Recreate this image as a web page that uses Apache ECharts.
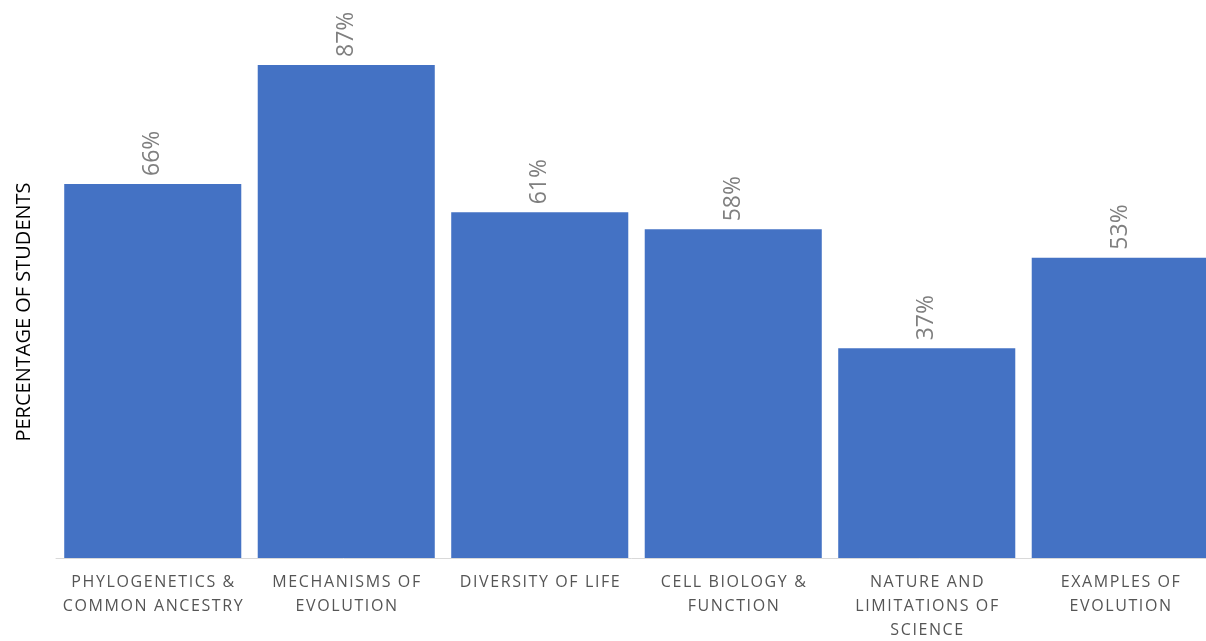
<!DOCTYPE html>
<html>
<head>
<meta charset="utf-8">
<script src="https://cdn.jsdelivr.net/npm/echarts@6/dist/echarts.min.js"></script>
<style>
  html, body { margin: 0; padding: 0; background: #fff; }
  #chart { width: 1206px; height: 641px; }
</style>
</head>
<body>
<div id="chart"></div>
<script>
const categories = [
  'PHYLOGENETICS &\nCOMMON ANCESTRY',
  'MECHANISMS OF\nEVOLUTION',
  'DIVERSITY OF LIFE',
  'CELL BIOLOGY &\nFUNCTION',
  'NATURE AND\nLIMITATIONS OF\nSCIENCE',
  'EXAMPLES OF\nEVOLUTION',
]
const percentages = [66, 87, 61, 58, 37, 53]
const yTitle = 'PERCENTAGE OF STUDENTS'

// thin spacing between letters, like the original's tracked caps
const track = (s) => s.split('\n').map((l) => l.split('').join('\u200a')).join('\n')

const chart = echarts.init(document.getElementById('chart'))
chart.setOption({
  animation: false,
  // plot runs a little past the right edge, as in the original
  grid: { left: 56, top: 48, width: 1161, height: 510, outerBoundsMode: 'none' },
  xAxis: {
    type: 'category',
    data: categories,
    axisLine: { lineStyle: { color: '#d9d9d9', width: 1 } },
    axisTick: { show: false },
    axisLabel: {
      interval: 0,
      color: '#555',
      fontFamily: 'Open Sans',
      fontSize: 16,
      lineHeight: 24,
      margin: 12,
      formatter: (v) => track(v),
    },
  },
  yAxis: {
    type: 'value',
    min: 0,
    max: 90,
    show: false,
  },
  graphic: [
    {
      type: 'text',
      x: 24,
      y: 312,
      rotation: Math.PI / 2,
      style: {
        text: yTitle,
        fill: '#000',
        font: '20px "Open Sans"',
        align: 'center',
        verticalAlign: 'middle',
      },
    },
  ],
  series: [
    {
      type: 'bar',
      data: percentages,
      barCategoryGap: '8.5%',
      itemStyle: { color: '#4472c4' },
      label: {
        show: true,
        position: 'top',
        rotate: 90,
        align: 'left',
        verticalAlign: 'middle',
        distance: 8,
        color: '#7f7f7f',
        fontFamily: 'Open Sans',
        fontSize: 23,
        formatter: '{c}%',
      },
    },
  ],
})
</script>
</body>
</html>
